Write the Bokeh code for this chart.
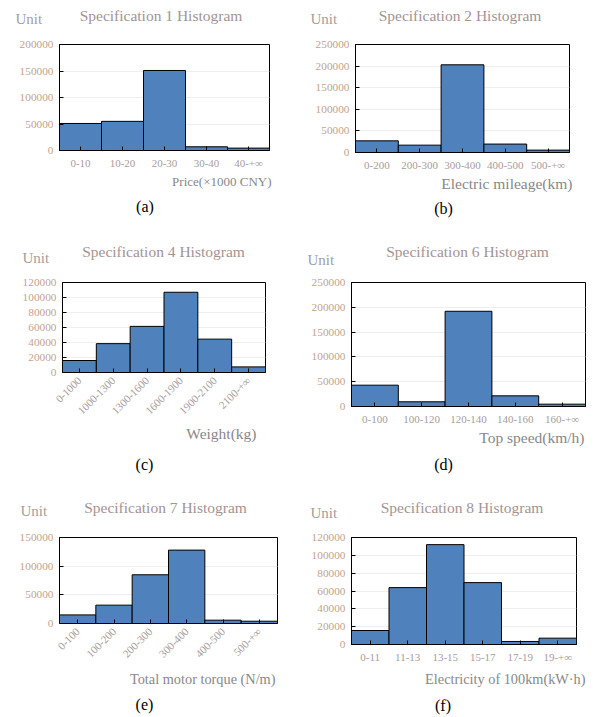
import math
from bokeh.plotting import figure
from bokeh.models import FactorRange, Range1d, FixedTicker, NumeralTickFormatter, Label
from bokeh.layouts import row, column
from bokeh.embed import file_html
from bokeh.resources import INLINE

FONT = "Liberation Serif"

# ---------------- data ----------------
cats_a = ["0-10", "10-20", "20-30", "30-40", "40-+∞"]
vals_a = [51000, 55000, 151000, 7000, 4500]

cats_b = ["0-200", "200-300", "300-400", "400-500", "500-+∞"]
vals_b = [27000, 17000, 203000, 19500, 5500]

cats_c = ["0-1000", "1000-1300", "1300-1600", "1600-1900", "1900-2100", "2100-+∞"]
vals_c = [16000, 38500, 61500, 107000, 44500, 7500]

cats_d = ["0-100", "100-120", "120-140", "140-160", "160-+∞"]
vals_d = [43000, 9500, 192000, 21500, 4700]

cats_e = ["0-100", "100-200", "200-300", "300-400", "400-500", "500-+∞"]
vals_e = [15000, 32000, 85000, 128000, 5800, 4000]

cats_f = ["0-11", "11-13", "13-15", "15-17", "17-19", "19-+∞"]
vals_f = [15700, 63800, 112000, 69400, 3400, 7100]

titles = ["Specification 1 Histogram", "Specification 2 Histogram",
          "Specification 4 Histogram", "Specification 6 Histogram",
          "Specification 7 Histogram", "Specification 8 Histogram"]
xlabels = ["Price(×1000 CNY)", "Electric mileage(km)", "Weight(kg)",
           "Top speed(km/h)", "Total motor torque (N/m)", "Electricity of 100km(kW·h)"]
tags = ["(a)", "(b)", "(c)", "(d)", "(e)", "(f)"]
y_max = [200000, 250000, 120000, 250000, 150000, 120000]
y_step = [50000, 50000, 20000, 50000, 50000, 20000]

BAR = "#4f81bd"
YTICK_C = "#c4a28c"
XTICK_C = "#a89c9c"
TITLE_C = "#a39393"
UNIT_C = "#a0a0a0"
XLAB_C = "#888888"

# panel geometry (page px): col_x0, col_w, row_y0, row_h, frame L, T, W, H, chart bottom border
geo = [
    (0, 297, 0, 230, 59, 44, 210, 106, 21),
    (297, 297, 0, 230, 355, 44, 214, 108, 21),
    (0, 297, 230, 248, 62, 282, 203, 91, 50),
    (297, 297, 230, 248, 351, 282, 234, 124, 21),
    (0, 297, 478, 239, 59, 537, 218, 86, 45),
    (297, 297, 478, 239, 351, 537, 225, 107, 21),
]
TOPB = 8
# text positions (page coords, vertical = visual middle): title(center), unit(left), xlabel(right), tag(center)
txt = [
    dict(title=(160.5, 15), unit=(15, 18.5), xl=(271, 180.5, "13px"), tag=(144.5, 205.5)),
    dict(title=(459.5, 15), unit=(310, 18.5), xl=(572, 182.5, "15.5px"), tag=(443, 207.5)),
    dict(title=(163, 250.5), unit=(22, 257), xl=(256, 432.5, "15.5px"), tag=(144, 463.5)),
    dict(title=(467, 250.5), unit=(307, 259), xl=(584, 437, "15.5px"), tag=(443, 464)),
    dict(title=(165, 506.5), unit=(20, 510), xl=(275, 678, "14.3px"), tag=(144, 704)),
    dict(title=(461.5, 507), unit=(310, 512.5), xl=(585, 678, "14.3px"), tag=(442.5, 704.5)),
]
rotated = [False, False, True, False, True, False]
all_cats = [cats_a, cats_b, cats_c, cats_d, cats_e, cats_f]
all_vals = [vals_a, vals_b, vals_c, vals_d, vals_e, vals_f]


def strip(w, h, x0, y0, items):
    s = figure(width=w, height=h, x_range=Range1d(0, 1), y_range=Range1d(0, 1),
               x_axis_type=None, y_axis_type=None, output_backend="svg",
               toolbar_location=None, title=None, min_border=0)
    s.outline_line_color = None
    s.background_fill_color = "white"
    s.border_fill_color = "white"
    for text, px, py, size, color, align in items:
        s.add_layout(Label(x=px - x0, y=(y0 + h) - py, x_units="screen", y_units="screen",
                           text=text, text_font=FONT, text_font_size=size,
                           text_color=color, text_align=align,
                           text_baseline="middle"))
    return s


def make(i):
    cx, cw, ry, rh, fl, ft, fw, fh, bb = geo[i]
    cats, vals = all_cats[i], all_vals[i]
    t = txt[i]

    top_h = ft - TOPB - ry
    chart_h = TOPB + fh + bb
    bot_h = rh - top_h - chart_h

    p = figure(width=cw, height=chart_h, x_range=FactorRange(*cats),
               y_range=Range1d(0, y_max[i]), output_backend="svg",
               toolbar_location=None, title=None,
               min_border_left=fl - cx, min_border_top=TOPB,
               min_border_right=cx + cw - fl - fw, min_border_bottom=bb)
    p.background_fill_color = "white"
    p.border_fill_color = "white"
    p.outline_line_color = "black"
    p.outline_line_width = 1
    p.vbar(x=cats, top=vals, width=1.0, fill_color=BAR, line_color="black", line_width=1)

    ticks = list(range(0, y_max[i] + 1, y_step[i]))
    p.xgrid.grid_line_color = None
    p.ygrid.grid_line_color = "#eeeeee"
    p.ygrid.ticker = FixedTicker(ticks=ticks)

    ya = p.yaxis[0]
    ya.ticker = FixedTicker(ticks=ticks)
    ya.formatter = NumeralTickFormatter(format="0")
    ya.major_tick_in = 4
    ya.major_tick_out = 0
    ya.minor_tick_line_color = None
    ya.axis_line_color = "black"
    ya.major_tick_line_color = "black"
    ya.major_label_text_font = FONT
    ya.major_label_text_font_size = "11.3px"
    ya.major_label_text_color = YTICK_C
    ya.major_label_standoff = 6

    xa = p.xaxis[0]
    xa.major_tick_in = 4
    xa.major_tick_out = 0
    xa.axis_line_color = "black"
    xa.major_tick_line_color = "black"
    xa.major_label_text_font = FONT
    xa.major_label_text_font_size = "11px"
    xa.major_label_text_color = XTICK_C
    xa.major_label_standoff = 6
    if rotated[i]:
        xa.major_label_orientation = math.pi / 4
        xa.major_label_standoff = 6

    top = strip(cw, top_h, cx, ry, [
        (titles[i], t["title"][0], t["title"][1], "15.5px", TITLE_C, "center"),
        ("Unit", t["unit"][0], t["unit"][1], "15px", UNIT_C, "left"),
    ])
    bot_y0 = ry + top_h + chart_h
    bot = strip(cw, bot_h, cx, bot_y0, [
        (xlabels[i], t["xl"][0], t["xl"][1], t["xl"][2], XLAB_C, "right"),
        (tags[i], t["tag"][0], t["tag"][1], "16px", "black", "center"),
    ])
    # wrap each figure in its own row so the column does not align their frames
    return column(row(top, spacing=0), row(p, spacing=0), row(bot, spacing=0), spacing=0)


panels = [make(i) for i in range(6)]
layout = column(row(panels[0], panels[1], spacing=0),
                row(panels[2], panels[3], spacing=0),
                row(panels[4], panels[5], spacing=0), spacing=0)

open("out.html", "w").write(file_html(layout, INLINE))
